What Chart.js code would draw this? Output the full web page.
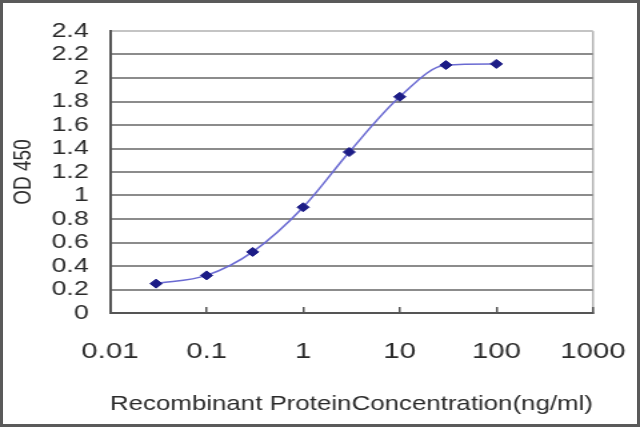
<!DOCTYPE html>
<html>
<head>
<meta charset="utf-8">
<script src="https://cdn.jsdelivr.net/npm/chart.js@4.4.1/dist/chart.umd.min.js"></script>
<style>
  html, body { margin: 0; padding: 0; background: #fff; }
  #frame { position: relative; width: 640px; height: 427px; overflow: hidden; background: #fff; }
  /* the original picture is stretched sideways, so draw narrow and widen */
  #frame canvas { position: absolute; left: 0; top: 0; transform-origin: 0 0; transform: scaleX(1.333333); }
  #frame::after { content: ''; position: absolute; left: 0; top: 0; right: 0; bottom: 0;
                  border: 3px solid #5a5a5a; pointer-events: none; }
</style>
</head>
<body>
<div id="frame"><canvas id="od-chart" width="480" height="427" style="width:480px;height:427px"></canvas></div>
<script>
// Recombinant protein concentration (ng/ml) vs OD 450
const concentrations = [0.03, 0.1, 0.3, 1, 3, 10, 30, 100];
const odValues       = [0.25, 0.32, 0.52, 0.90, 1.37, 1.84, 2.11, 2.12];

const xTicks = [0.01, 0.1, 1, 10, 100, 1000];
const yTicks = [0, 0.2, 0.4, 0.6, 0.8, 1, 1.2, 1.4, 1.6, 1.8, 2, 2.2, 2.4];

Chart.defaults.font.family = "'Liberation Sans', Arial, sans-serif";
Chart.defaults.color = '#2a2a2a';

const ctx = document.getElementById('od-chart').getContext('2d');

new Chart(ctx, {
  type: 'line',
  data: {
    datasets: [{
      data: concentrations.map((c, i) => ({ x: c, y: odValues[i] })),
      borderColor: '#6a6ad2',
      borderWidth: 1.5,
      cubicInterpolationMode: 'monotone',
      pointStyle: 'rectRot',
      pointRadius: 4.5,
      pointBackgroundColor: '#1c1c86',
      pointBorderColor: '#1c1c86',
      pointBorderWidth: 1
    }]
  },
  options: {
    responsive: false,
    animation: false,
    layout: { padding: { top: 31, right: 35.25, bottom: 0, left: 0 } },
    plugins: { legend: { display: false }, tooltip: { enabled: false } },
    scales: {
      x: {
        type: 'logarithmic',
        min: 0.01,
        max: 1000,
        afterBuildTicks: s => { s.ticks = xTicks.map(v => ({ value: v })); },
        afterFit: s => { s.height = 114; s.paddingLeft = 0; s.paddingRight = 0; },
        ticks: {
          padding: 32,
          autoSkip: false,
          maxRotation: 0,
          color: '#2a2a2a',
          font: { size: 22 },
          callback: v => String(v)
        },
        grid: {
          drawOnChartArea: true,
          color: c => (c.tick && c.tick.value === 1000) ? '#b4b4b4' : 'rgba(0,0,0,0)',
          lineWidth: 1.5,
          tickColor: '#555',
          tickWidth: 1.5,
          tickLength: -6
        },
        border: { display: true, color: '#555', width: 2 },
        title: {
          display: true,
          text: 'Recombinant ProteinConcentration(ng/ml)',
          color: '#2a2a2a',
          font: { size: 21 },
          padding: { top: 0, bottom: 10 }
        }
      },
      y: {
        type: 'linear',
        min: 0,
        max: 2.4,
        afterBuildTicks: s => { s.ticks = yTicks.map(v => ({ value: v })); },
        afterFit: s => { s.width = 82.5; },
        ticks: {
          padding: 16,
          autoSkip: false,
          color: '#2a2a2a',
          font: { size: 20 },
          callback: v => String(v)
        },
        grid: {
          color: c => (c.tick && c.tick.value === 2.4) ? '#c4c4c4' : '#8c8c8c',
          lineWidth: 2,
          drawTicks: false
        },
        border: { display: true, color: '#555', width: 2 },
        title: {
          display: true,
          text: 'OD 450',
          color: '#2a2a2a',
          font: { size: 19 },
          padding: { top: 6, bottom: 0 }
        }
      }
    }
  }
});
</script>
</body>
</html>
